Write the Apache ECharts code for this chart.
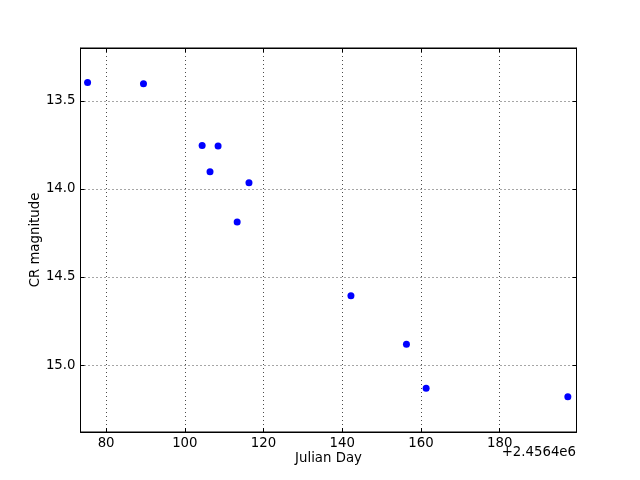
<!DOCTYPE html>
<html><head><meta charset="utf-8">
<script src="https://cdn.jsdelivr.net/npm/echarts@6/dist/echarts.min.js"></script>
<style>html,body{margin:0;padding:0;background:#fff}#c{width:640px;height:480px}</style>
</head><body><div id="c"></div>
<script>
const julianDay = [75.3, 89.5, 104.4, 108.45, 106.4, 116.3, 113.3, 142.2, 156.3, 161.3, 197.3];
const crMagnitude = [13.396, 13.403, 13.753, 13.756, 13.902, 13.965, 14.188, 14.607, 14.882, 15.131, 15.18];
const xTicks = [80, 100, 120, 140, 160, 180];
const yTicks = [13.5, 14.0, 14.5, 15.0];
const xTitle = 'Julian Day';
const yTitle = 'CR magnitude';
const offsetText = '+2.4564e6';

const font = 'DejaVu Sans';
const fs = 13.3;
const chart = echarts.init(document.getElementById('c'), null, {renderer: 'canvas'});
const dotted = {show: true, lineStyle: {color: '#000', type: [1, 3], width: 1, opacity: 0.7}};
const tickIn = (vals) => ({show: true, inside: true, length: 4, customValues: vals, lineStyle: {color: '#000'}});
chart.setOption({
  animation: false,
  backgroundColor: '#fff',
  grid: {left: 80.5, right: 63.5, top: 48, bottom: 48, show: true, borderColor: '#000', borderWidth: 1, backgroundColor: 'transparent'},
  xAxis: [{
    type: 'value', min: 73.5, max: 199.5, position: 'bottom',
    axisLine: {show: true, lineStyle: {color: '#000'}},
    axisTick: tickIn(xTicks),
    axisLabel: {customValues: xTicks, color: '#000', fontFamily: font, fontSize: fs, margin: 5},
    splitLine: dotted,
    name: xTitle, nameLocation: 'middle', nameGap: 20, nameMoveOverlap: false,
    nameTextStyle: {color: '#000', fontFamily: font, fontSize: fs}
  }, {
    type: 'value', min: 73.5, max: 199.5, position: 'top',
    axisLine: {show: true, lineStyle: {color: '#000'}},
    axisTick: tickIn(xTicks), axisLabel: {show: false}, splitLine: {show: false}
  }],
  yAxis: [{
    type: 'value', min: 13.2, max: 15.38, inverse: true, position: 'left',
    axisLine: {show: true, lineStyle: {color: '#000'}},
    axisTick: tickIn(yTicks),
    axisLabel: {customValues: yTicks, color: '#000', fontFamily: font, fontSize: fs, margin: 5, formatter: v => v.toFixed(1)},
    splitLine: dotted,
    name: yTitle, nameLocation: 'middle', nameGap: 38, nameRotate: 90, nameMoveOverlap: false,
    nameTextStyle: {color: '#000', fontFamily: font, fontSize: fs}
  }, {
    type: 'value', min: 13.2, max: 15.38, inverse: true, position: 'right',
    axisLine: {show: true, lineStyle: {color: '#000'}},
    axisTick: tickIn(yTicks), axisLabel: {show: false}, splitLine: {show: false}
  }],
  graphic: [{
    type: 'text', right: 64, top: 446,
    style: {text: offsetText, fill: '#000', font: '13.3px "DejaVu Sans"', textAlign: 'right'}
  }],
  series: [{
    type: 'scatter', xAxisIndex: 0, yAxisIndex: 0,
    data: julianDay.map((x, i) => [x, crMagnitude[i]]),
    symbol: 'circle', symbolSize: 7,
    itemStyle: {color: '#0000ff', borderColor: '#0000ff', borderWidth: 0, opacity: 1}
  }]
});
</script></body></html>
